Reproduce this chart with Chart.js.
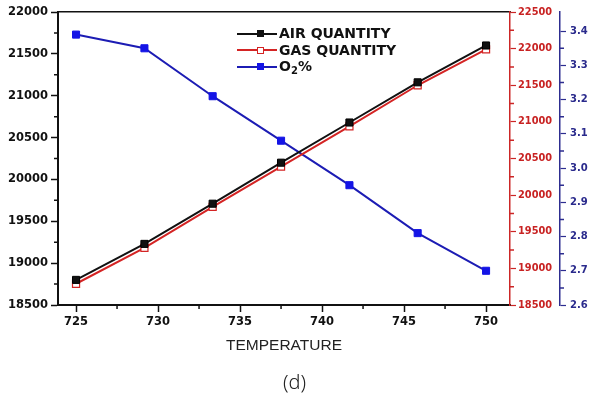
<!DOCTYPE html>
<html>
<head>
<meta charset="utf-8">
<script src="https://cdn.jsdelivr.net/npm/chart.js@4.4.1/dist/chart.umd.min.js"></script>
<style>
  body { margin: 0; background: #fff; }
  #wrap { position: relative; width: 589px; height: 398px; }
  #legend { position: absolute; left: 237px; top: 25px; font: bold 14px "DejaVu Sans", sans-serif; color: #111; }
  .row { height: 16.5px; line-height: 16.5px; white-space: nowrap; }
  .sym { position: relative; display: inline-block; width: 40px; height: 16.5px; vertical-align: top; margin-right: 2px; }
  .sym .ln { position: absolute; left: 0; right: 0; top: 7.5px; height: 2px; }
  .sym .mk { position: absolute; left: 20px; top: 5px; width: 7px; height: 7px; box-sizing: border-box; }
  sub { font-size: 10px; line-height: 0; vertical-align: -3px; }
</style>
</head>
<body>
<div id="wrap">
  <canvas id="grafico" width="589" height="398"></canvas>
  <div id="legend">
    <div class="row"><span class="sym"><span class="ln" style="background:#111"></span><span class="mk" style="background:#111"></span></span>AIR QUANTITY</div>
    <div class="row"><span class="sym"><span class="ln" style="background:#d42424"></span><span class="mk" style="background:#fff;border:1px solid #d42424"></span></span>GAS QUANTITY</div>
    <div class="row"><span class="sym"><span class="ln" style="background:#1c1cb4"></span><span class="mk" style="background:#1414e6"></span></span>O<sub>2</sub>%</div>
  </div>
</div>
<script>
// dados
const temperaturas = [725, 729.17, 733.33, 737.5, 741.67, 745.83, 750];
const quantidadeAr = [18800, 19230, 19710, 20200, 20680, 21160, 21600];
const quantidadeGas = [18790, 19280, 19840, 20390, 20940, 21500, 21990];
const oxigenio = [3.39, 3.35, 3.21, 3.08, 2.95, 2.81, 2.70];

// rótulos dos eixos
const ticksX = [725, 730, 735, 740, 745, 750];
const ticksAr = [18500, 19000, 19500, 20000, 20500, 21000, 21500, 22000];
const ticksGas = [18500, 19000, 19500, 20000, 20500, 21000, 21500, 22000, 22500];
const ticksO2 = [2.6, 2.7, 2.8, 2.9, 3.0, 3.1, 3.2, 3.3, 3.4];

const pares = (ys) => temperaturas.map((t, i) => ({ x: t, y: ys[i] }));
const fixos = (lista) => (s) => { s.ticks = lista.map(v => ({ value: v })); };

// marcas menores entre as marcas principais
const marcasMenores = {
  id: 'marcasMenores',
  afterDraw(chart, args, opts) {
    const ctx = chart.ctx;
    Object.keys(opts.eixos || {}).forEach(id => {
      const s = chart.scales[id];
      const m = opts.eixos[id];
      const vals = s.ticks.map(t => t.value);
      ctx.save();
      ctx.strokeStyle = m.cor;
      ctx.lineWidth = 1.5;
      ctx.beginPath();
      for (let i = 0; i < vals.length - 1; i++) {
        const p = s.getPixelForValue((vals[i] + vals[i + 1]) / 2);
        if (s.isHorizontal()) { ctx.moveTo(p, s.top); ctx.lineTo(p, s.top + 4); }
        else if (s.position === 'left') { ctx.moveTo(s.right, p); ctx.lineTo(s.right - 4, p); }
        else { ctx.moveTo(s.left, p); ctx.lineTo(s.left + 4, p); }
      }
      ctx.stroke();
      ctx.restore();
    });
  }
};

const fonteEixo = { family: '"DejaVu Sans", sans-serif', weight: 'bold', size: 11.5 };
const fontePequena = { family: '"DejaVu Sans", sans-serif', weight: 'bold', size: 9.8 };

const ctx = document.getElementById('grafico').getContext('2d');
const grafico = new Chart(ctx, {
  type: 'line',
  data: {
    datasets: [{
      label: 'AIR QUANTITY',
      data: pares(quantidadeAr),
      yAxisID: 'y',
      borderColor: '#111',
      backgroundColor: '#111',
      borderWidth: 2,
      pointStyle: 'rect',
      pointRadius: 5,
      pointBorderWidth: 1,
      pointBackgroundColor: '#111',
      pointBorderColor: '#000'
    }, {
      label: 'GAS QUANTITY',
      data: pares(quantidadeGas),
      yAxisID: 'yGas',
      borderColor: '#d42424',
      backgroundColor: '#fff',
      borderWidth: 2,
      pointStyle: 'rect',
      pointRadius: 5,
      pointBorderWidth: 1.2,
      pointBackgroundColor: '#fff',
      pointBorderColor: '#d42424'
    }, {
      label: 'O2%',
      data: pares(oxigenio),
      yAxisID: 'yO2',
      borderColor: '#1c1cb4',
      backgroundColor: '#1414e6',
      borderWidth: 2,
      pointStyle: 'rect',
      pointRadius: 5,
      pointBorderWidth: 1,
      pointBackgroundColor: '#1414e6',
      pointBorderColor: '#1414e6'
    }]
  },
  options: {
    responsive: false,
    animation: false,
    layout: { padding: { top: 12, left: 0, right: 0, bottom: 3 } },
    scales: {
      x: {
        type: 'linear',
        position: 'bottom',
        min: 723.9,
        max: 751.46,
        afterBuildTicks: fixos(ticksX),
        afterFit: (s) => { s.height = 50; },
        grid: { drawOnChartArea: false, tickLength: 7, tickWidth: 1.5, tickColor: '#111' },
        border: { color: '#111', width: 2 },
        ticks: { font: fonteEixo, color: '#111', padding: 3, maxRotation: 0, autoSkip: false, callback: (v) => String(v) },
        title: { display: true, text: 'TEMPERATURE', color: '#222', font: { family: '"Liberation Sans", Arial, sans-serif', size: 15.5 }, padding: { top: 0, bottom: 0 } }
      },
      xTopo: {
        type: 'linear',
        position: 'top',
        min: 723.9,
        max: 751.46,
        afterFit: (s) => { s.height = 0; },
        grid: { display: false },
        border: { color: '#111', width: 1.5 },
        ticks: { display: false }
      },
      y: {
        position: 'left',
        min: 18500,
        max: 22000,
        afterBuildTicks: fixos(ticksAr),
        afterFit: (s) => { s.width = 58; },
        grid: { drawOnChartArea: false, tickLength: 7, tickWidth: 1.5, tickColor: '#111' },
        border: { color: '#111', width: 2 },
        ticks: { font: fonteEixo, color: '#111', padding: 3, autoSkip: false, callback: (v) => String(v) }
      },
      yGas: {
        position: 'right',
        weight: 0,
        min: 18500,
        max: 22500,
        afterBuildTicks: fixos(ticksGas),
        afterFit: (s) => { s.width = 50; },
        grid: { drawOnChartArea: false, tickLength: 6, tickWidth: 1.2, tickColor: '#cc2626' },
        border: { color: '#cc2626', width: 1.5 },
        ticks: { font: fontePequena, color: '#c82222', padding: 2, autoSkip: false, callback: (v) => String(v) }
      },
      yO2: {
        position: 'right',
        weight: 1,
        min: 2.6,
        max: 3.456,
        afterBuildTicks: fixos(ticksO2),
        afterFit: (s) => { s.width = 29; },
        grid: { drawOnChartArea: false, tickLength: 6, tickWidth: 1.2, tickColor: '#2d2d90' },
        border: { color: '#2d2d90', width: 1.5 },
        ticks: { font: { family: '"DejaVu Sans", sans-serif', weight: 'bold', size: 10 }, color: '#2a2a8c', padding: 4, autoSkip: false, callback: (v) => v.toFixed(1) }
      }
    },
    plugins: {
      legend: { display: false },
      tooltip: { enabled: false },
      title: {
        display: true,
        position: 'bottom',
        text: '(d)',
        color: '#222',
        font: { family: '"Noto Sans", sans-serif', weight: 300, size: 20 },
        padding: { top: 16, bottom: 0 }
      },
      marcasMenores: {
        eixos: {
          x: { cor: '#111' },
          y: { cor: '#111' },
          yGas: { cor: '#cc2626' },
          yO2: { cor: '#2d2d90' }
        }
      }
    }
  },
  plugins: [marcasMenores]
});
</script>
</body>
</html>
